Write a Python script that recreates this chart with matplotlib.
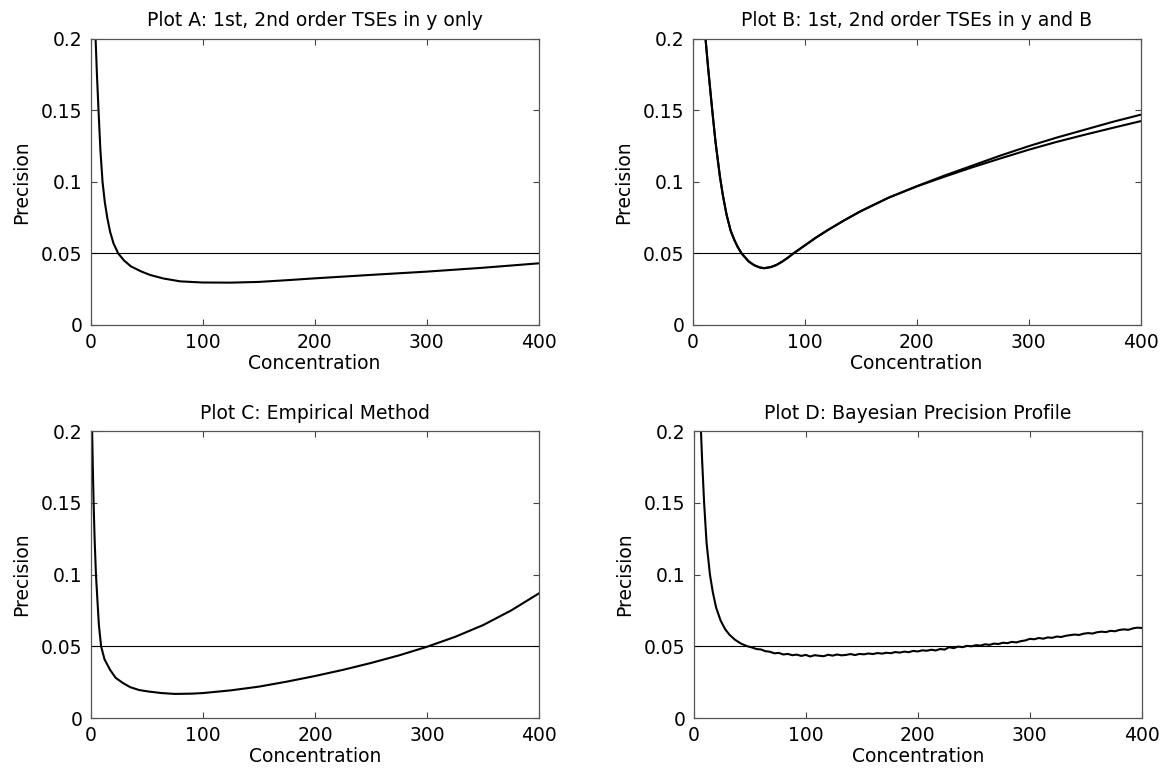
import numpy as np
import matplotlib
matplotlib.use("Agg")
import matplotlib.pyplot as plt

plt.rcParams['font.family'] = ['DejaVu Sans']

# Plot A: 1st, 2nd order TSEs in y only
a_x = [4.5, 5.7, 7.1, 8.8, 10.7, 12.7, 14.9, 17.5, 20.5, 24.7, 30, 36, 45, 53,
       65, 80, 100, 125, 150, 175, 200, 250, 300, 350, 400]
a_y = [0.2, 0.175, 0.15, 0.122, 0.1, 0.086, 0.075, 0.065, 0.057, 0.05, 0.045,
       0.041, 0.0375, 0.035, 0.0325, 0.0305, 0.0297, 0.0296, 0.0301, 0.0313,
       0.0326, 0.035, 0.0373, 0.040, 0.0431]

# Plot B: two nearly overlapping curves
b_x = [11.6, 14, 17.6, 20.5, 24.4, 27, 30.4, 34, 37, 40, 43.8, 50, 55, 60, 64,
       70, 75, 80, 85, 90, 100, 110, 120, 135, 150, 175, 200, 225, 250, 275,
       300, 325, 350, 375, 400]
b_y1 = [0.2, 0.179, 0.15, 0.128, 0.104, 0.091, 0.077, 0.066, 0.060, 0.055,
        0.050, 0.0445, 0.0418, 0.0402, 0.0397, 0.0405, 0.042, 0.0443, 0.047,
        0.050, 0.0555, 0.061, 0.066, 0.073, 0.0795, 0.089, 0.097, 0.1045,
        0.1115, 0.1185, 0.125, 0.131, 0.1365, 0.142, 0.147]
b_y2 = [0.2, 0.179, 0.15, 0.128, 0.104, 0.091, 0.077, 0.066, 0.060, 0.055,
        0.050, 0.0445, 0.0418, 0.0402, 0.0397, 0.0405, 0.042, 0.0443, 0.047,
        0.050, 0.0555, 0.061, 0.066, 0.073, 0.0795, 0.089, 0.0968, 0.1037,
        0.1103, 0.1165, 0.1225, 0.128, 0.133, 0.1378, 0.1425]

# Plot C: Empirical Method
c_x = [1, 1.6, 2.3, 3.2, 4.4, 5.5, 7, 9, 12, 17, 22, 28.5, 35, 43, 52, 63, 75,
       90, 100, 125, 150, 175, 200, 225, 250, 275, 300, 325, 350, 375, 400]
c_y = [0.2, 0.175, 0.15, 0.125, 0.1, 0.085, 0.065, 0.05, 0.041, 0.0336, 0.028,
       0.0244, 0.0215, 0.0195, 0.0184, 0.0174, 0.0168, 0.0170, 0.0174, 0.0193,
       0.0219, 0.0254, 0.0293, 0.0336, 0.0384, 0.0437, 0.0497, 0.0566, 0.0648,
       0.0750, 0.087]

# Plot D: Bayesian Precision Profile (simulation based, so a bit rough)
d_x = [6.5, 7.5, 9.3, 11.5, 14.5, 17, 20, 24, 28, 32, 37, 42, 46,
       48, 52, 56, 60, 64, 68, 72, 76, 80, 84, 88, 92, 96, 100, 104, 108, 112,
       116, 120, 124, 128, 132, 136, 140, 144, 148, 152, 156, 160, 164, 168,
       172, 176, 180, 184, 188, 192, 196, 200, 204, 208, 212, 216, 220, 224,
       228, 232, 236, 240, 244, 248, 252, 256, 260, 264, 268, 272, 276, 280,
       284, 288, 292, 296, 300, 304, 308, 312, 316, 320, 324, 328, 332, 336,
       340, 344, 348, 352, 356, 360, 364, 368, 372, 376, 380, 384, 388, 392,
       396, 400]
d_y = [0.2, 0.18, 0.15, 0.122, 0.1, 0.088, 0.077, 0.068, 0.062, 0.058, 0.0545,
       0.052, 0.0506,
       0.0500, 0.0492, 0.0481, 0.0478, 0.0466, 0.0462, 0.0451, 0.0454, 0.0443,
       0.0447, 0.0438, 0.0442, 0.0433, 0.0440, 0.0429, 0.0438, 0.0434, 0.0431,
       0.0441, 0.0435, 0.0443, 0.0437, 0.0440, 0.0446, 0.0439, 0.0447, 0.0444,
       0.0450, 0.0446, 0.0453, 0.0449, 0.0455, 0.0452, 0.0460, 0.0456, 0.0463,
       0.0459, 0.0468, 0.0464, 0.0472, 0.0469, 0.0476, 0.0471, 0.0481, 0.0477,
       0.0494, 0.0487, 0.0498, 0.0494, 0.0503, 0.0500, 0.0508, 0.0505, 0.0514,
       0.0510, 0.0519, 0.0516, 0.0525, 0.0522, 0.0531, 0.0527, 0.0536, 0.0541,
       0.0552, 0.0549, 0.0558, 0.0553, 0.0562, 0.0559, 0.0568, 0.0565, 0.0573,
       0.0578, 0.0582, 0.0579, 0.0588, 0.0592, 0.0589, 0.0598, 0.0602, 0.0599,
       0.0608, 0.0605, 0.0614, 0.0618, 0.0615, 0.0625, 0.0630, 0.0628]

target = 0.05
x_ticks = [0, 100, 200, 300, 400]
y_ticks = [0, 0.05, 0.1, 0.15, 0.2]
y_ticklabels = ['0', '0.05', '0.1', '0.15', '0.2']

titles = ['Plot A: 1st, 2nd order TSEs in y only',
          'Plot B: 1st, 2nd order TSEs in y and B',
          'Plot C: Empirical Method',
          'Plot D: Bayesian Precision Profile']

fig = plt.figure(figsize=(11.61, 7.69), dpi=100)
boxes = [[0.0780, 0.5774, 0.3860, 0.372],
         [0.5965, 0.5774, 0.3860, 0.372],
         [0.0784, 0.0663, 0.3860, 0.373],
         [0.5975, 0.0663, 0.3860, 0.373]]
axes = [fig.add_axes(b) for b in boxes]

curves = [[(a_x, a_y)], [(b_x, b_y1), (b_x, b_y2)], [(c_x, c_y)], [(d_x, d_y)]]

for ax, title, cc in zip(axes, titles, curves):
    for xs, ys in cc:
        ax.plot(xs, ys, color='black', lw=1.5)
    ax.axhline(target, color='black', lw=0.8)
    ax.set_xlim(0, 400)
    ax.set_ylim(0, 0.2)
    ax.set_xticks(x_ticks)
    ax.set_xticklabels([str(t) for t in x_ticks])
    ax.set_yticks(y_ticks)
    ax.set_yticklabels(y_ticklabels)
    ax.tick_params(direction='in', length=4, width=0.8, top=True, right=True,
                   labelsize=13.5, color='#444444', pad=6)
    for s in ax.spines.values():
        s.set_color('#555555')
        s.set_linewidth(0.9)
    ax.set_title(title, fontsize=13.5, pad=9)
    ax.set_xlabel('Concentration', fontsize=13.5, labelpad=1)
    ax.set_ylabel('Precision', fontsize=13.5, labelpad=7)

fig.savefig('out.png', dpi=100)
